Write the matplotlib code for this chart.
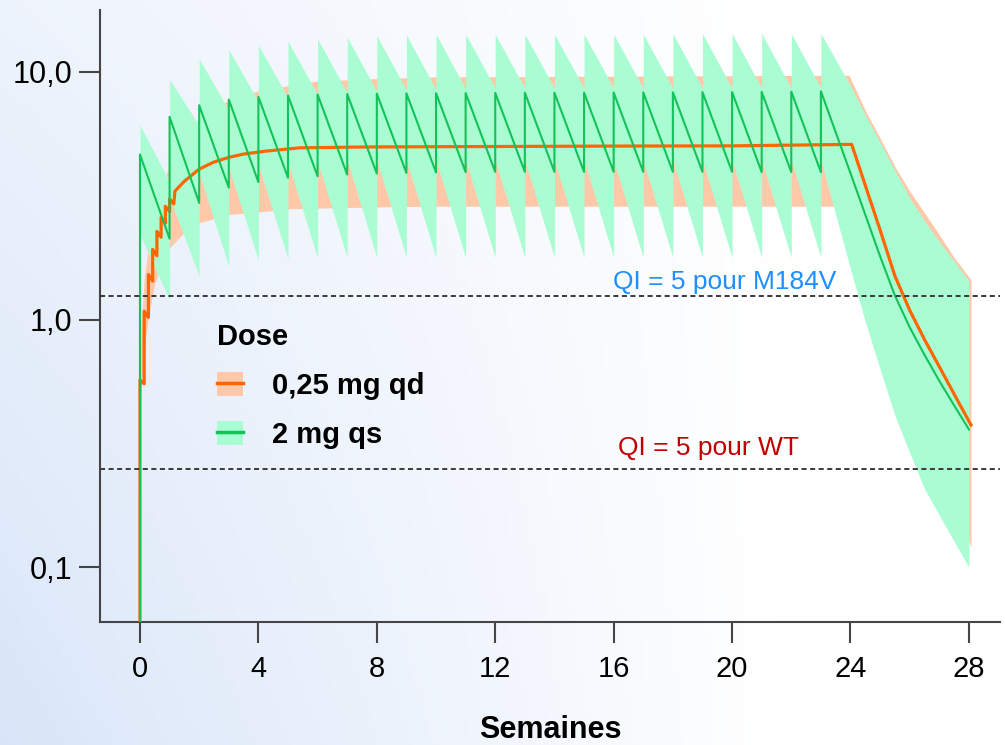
"""Simulated concentration profiles (median and 90% interval) for two dosing regimens."""

import matplotlib

matplotlib.use("Agg")
import matplotlib.pyplot as plt
import numpy as np
from matplotlib.lines import Line2D
from matplotlib.patches import Patch
from matplotlib.ticker import FixedFormatter, FixedLocator, NullLocator

# ---------------------------------------------------------------- data
# 2 mg qs : one dose each week, weeks 0..23, values read at the dose
# (peak) and just before the next dose one week later (trough).
green_med_peak = [4.64, 6.59, 7.34, 7.74, 7.94, 8.03, 8.11, 8.15, 8.18, 8.20, 8.21, 8.22,
                  8.23, 8.24, 8.24, 8.25, 8.26, 8.27, 8.28, 8.29, 8.30, 8.31, 8.33, 8.36]
green_med_trough = [2.12, 2.96, 3.41, 3.59, 3.74, 3.79, 3.85, 3.89, 3.91, 3.93, 3.94, 3.95,
                    3.95, 3.95, 3.95, 3.95, 3.95, 3.95, 3.95, 3.95, 3.94, 3.94, 3.94, 3.9]
green_hi_peak = [6.1, 9.3, 11.3, 12.3, 12.8, 13.3, 13.6, 13.8, 14.0, 14.1, 14.2, 14.2,
                 14.2, 14.2, 14.2, 14.2, 14.2, 14.2, 14.3, 14.3, 14.3, 14.3, 14.3, 14.3]
green_hi_trough = [3.6, 6.1, 7.0, 7.6, 7.9, 8.1, 8.25, 8.35, 8.45, 8.5, 8.55, 8.6,
                   8.6, 8.6, 8.6, 8.6, 8.6, 8.6, 8.6, 8.6, 8.6, 8.6, 8.6, 8.8]
green_lo_peak = [2.2, 3.1, 3.9, 4.1, 4.2, 4.3, 4.35, 4.4, 4.4, 4.4, 4.4, 4.4,
                 4.4, 4.4, 4.4, 4.4, 4.4, 4.4, 4.4, 4.4, 4.4, 4.4, 4.4, 4.4]
green_lo_trough = [1.2, 1.5, 1.64, 1.74, 1.76, 1.77, 1.78, 1.78, 1.78, 1.78, 1.78, 1.78,
                   1.78, 1.78, 1.78, 1.78, 1.78, 1.78, 1.78, 1.78, 1.78, 1.78, 1.78, 1.6]

# wash-out after the last dose
washout_weeks = [24.5, 25, 25.5, 26, 26.5, 27, 27.5, 28]
green_med_tail = [2.65, 1.8, 1.25, 0.93, 0.72, 0.565, 0.45, 0.36]
green_hi_tail = [6.7, 5.2, 4.0, 3.1, 2.5, 2.06, 1.72, 1.43]
green_lo_tail = [0.98, 0.63, 0.41, 0.29, 0.207, 0.162, 0.127, 0.10]

# 0,25 mg qd : daily doses, first week read day by day
early_days = [0, 1, 2, 3, 4, 5, 6, 7]
orange_early_peak = [0.57, 1.08, 1.52, 1.92, 2.27, 2.58, 2.87, 3.07]
orange_early_trough = [0.55, 1.02, 1.43, 1.81, 2.15, 2.45, 2.73, 2.93]
orange_med_weeks = [1.18, 1.5, 2.0, 2.5, 3.0, 3.5, 4.25, 5.4, 7.7, 12, 16, 20, 24.04,
                    24.5, 25, 25.5, 26, 26.5, 27, 27.5, 28.07]
orange_med = [3.3, 3.62, 4.05, 4.33, 4.52, 4.66, 4.79, 4.94, 4.98, 5.0, 5.02, 5.03, 5.1,
              3.48, 2.3, 1.5, 1.09, 0.83, 0.645, 0.5, 0.375]
orange_band_weeks = [0, 0.14, 0.3, 0.5, 0.75, 1.0, 1.5, 2.0, 3.0, 4.0, 5.0, 6.0, 8.0, 10.0,
                     23.95, 24.5, 25, 25.5, 26, 26.5, 27, 27.5, 28.07]
orange_hi = [0.75, 1.45, 2.0, 2.7, 3.5, 4.2, 5.5, 6.5, 7.7, 8.4, 8.8, 9.2, 9.4, 9.55,
             9.7, 7.0, 5.4, 4.15, 3.3, 2.7, 2.2, 1.78, 1.45]
orange_lo = [0.45, 0.76, 1.05, 1.4, 1.7, 1.95, 2.25, 2.46, 2.66, 2.72, 2.8, 2.82, 2.85, 2.87,
             2.87, 1.9, 1.25, 0.85, 0.58, 0.4, 0.28, 0.19, 0.12]

thresholds = [1.25, 0.25]
threshold_labels = ["QI = 5 pour M184V", "QI = 5 pour WT"]
threshold_colors = ["#1E8FFF", "#C00000"]

x_ticks = [0, 4, 8, 12, 16, 20, 24, 28]
y_ticks = [0.1, 1.0, 10.0]
y_tick_labels = ["0,1", "1,0", "10,0"]

SALMON = "#FFC8A8"
MINT = "#AAFDD2"
ORANGE = "#FF6600"
GREEN = "#14C25A"
AXIS = "#454545"


def weekly_sawtooth(peaks, troughs, tail):
    t, v = [], []
    for k, (p, tr) in enumerate(zip(peaks, troughs)):
        t += [k, k + 1]
        v += [p, tr]
    return np.array(t + washout_weeks, float), np.array(v + tail, float)


def main() -> None:
    plt.rcParams["font.family"] = ["Liberation Sans", "DejaVu Sans"]
    fig = plt.figure(figsize=(10.05, 7.45), dpi=100)

    # faint bluish backdrop
    bg = fig.add_axes([0, 0, 1, 1], zorder=-10)
    gx, gy = np.meshgrid(np.linspace(0, 1, 200), np.linspace(0, 1, 150))
    shade = np.clip(1.0 - 1.3 * gx, 0, 1) * (0.45 + 0.55 * gy)
    rgb = np.ones((150, 200, 3))
    tint = np.array([0.85, 0.9, 0.975])
    rgb = rgb * (1 - shade[..., None]) + tint * shade[..., None]
    bg.imshow(rgb, aspect="auto", extent=[0, 1, 0, 1], origin="upper")
    bg.set_axis_off()

    ax = fig.add_axes([100 / 1005, 1 - 622 / 745, 900 / 1005, 612 / 745])
    ax.patch.set_alpha(0)

    gt, gmed = weekly_sawtooth(green_med_peak, green_med_trough, green_med_tail)
    _, ghi = weekly_sawtooth(green_hi_peak, green_hi_trough, green_hi_tail)
    _, glo = weekly_sawtooth(green_lo_peak, green_lo_trough, green_lo_tail)

    ot_early, ov_early = [], []
    for d, p, tr in zip(early_days, orange_early_peak, orange_early_trough):
        ot_early += [d / 7, (d + 1) / 7]
        ov_early += [p, tr]
    ot = np.array([0.0] + ot_early + orange_med_weeks)
    ov = np.array([0.01] + ov_early + orange_med)

    ax.fill_between(orange_band_weeks, orange_lo, orange_hi, color=SALMON, lw=0, zorder=1)
    ax.fill_between(gt, glo, ghi, color=MINT, lw=0, zorder=2)
    ax.plot(ot, ov, color=ORANGE, lw=2.3, zorder=3)
    ax.plot(np.r_[0.0, gt], np.r_[0.01, gmed], color=GREEN, lw=1.5, zorder=4)

    text_x = [15.98, 16.15]
    for yv, lab, col, dy, tx in zip(thresholds, threshold_labels, threshold_colors,
                                    [1.06, 1.13], text_x):
        ax.axhline(yv, color="#3a3a3a", lw=1.4, dashes=(2.6, 1.8), zorder=5)
        ax.text(tx, yv * dy, lab, color=col, fontsize=19, va="baseline", ha="left", zorder=6)

    ax.set_yscale("log")
    ax.set_xlim(-1.35, 29.05)
    ax.set_ylim(0.06, 17.8)
    ax.yaxis.set_major_locator(FixedLocator(y_ticks))
    ax.yaxis.set_major_formatter(FixedFormatter(y_tick_labels))
    ax.yaxis.set_minor_locator(NullLocator())
    ax.set_xticks(x_ticks)
    ax.tick_params(axis="both", direction="out", length=15, width=1.5, color=AXIS)
    ax.tick_params(axis="y", labelsize=22, pad=5)
    ax.tick_params(axis="x", labelsize=21, pad=9)
    for side in ("top", "right"):
        ax.spines[side].set_visible(False)
    for side in ("left", "bottom"):
        ax.spines[side].set_color(AXIS)
        ax.spines[side].set_linewidth(1.5)
    ax.set_xlabel("Semaines", fontsize=22, fontweight="bold", labelpad=23)

    handles = [
        (Patch(facecolor=SALMON, edgecolor="none"), Line2D([], [], color=ORANGE, lw=2.5)),
        (Patch(facecolor=MINT, edgecolor="none"), Line2D([], [], color=GREEN, lw=2.5)),
    ]
    leg = ax.legend(
        handles,
        ["0,25 mg qd", "2 mg qs"],
        title="Dose",
        loc="upper left",
        bbox_to_anchor=(217 / 1005, 1 - 323 / 745),
        bbox_transform=fig.transFigure,
        frameon=False,
        prop={"size": 21, "weight": "bold"},
        title_fontproperties={"size": 21, "weight": "bold"},
        alignment="left",
        handlelength=0.89,
        handleheight=0.89,
        handletextpad=1.0,
        labelspacing=0.72,
        borderpad=0.0,
        borderaxespad=0.0,
    )
    leg.set_zorder(7)

    fig.savefig("out.png", dpi=100)
    plt.close(fig)


if __name__ == "__main__":
    main()
